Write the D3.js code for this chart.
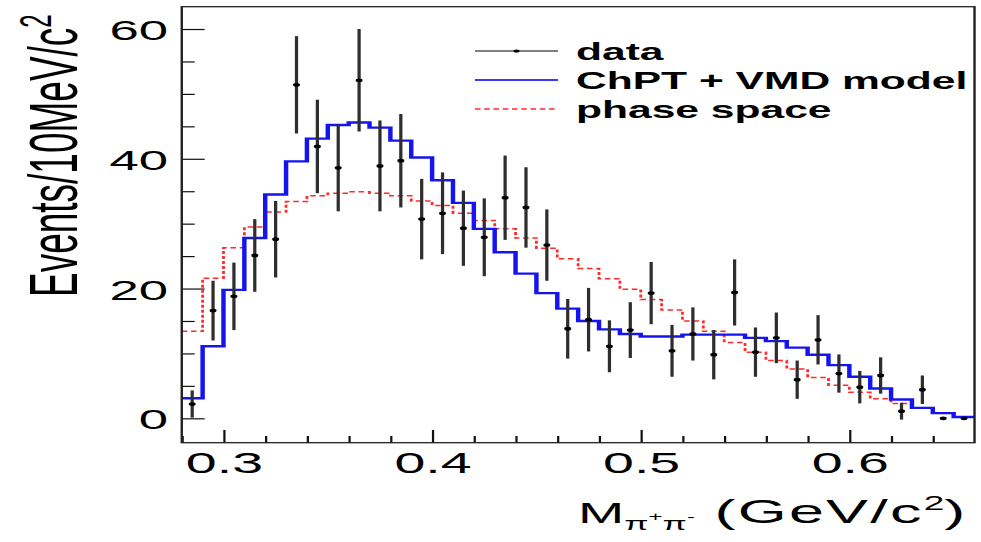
<!DOCTYPE html>
<html>
<head>
<meta charset="utf-8">
<script src="https://cdn.jsdelivr.net/npm/d3@7"></script>
<style>
  html, body { margin: 0; padding: 0; background: #ffffff; }
  svg { display: block; }
  text { font-family: "Liberation Sans", Arial, Helvetica, sans-serif; fill: #000; }
</style>
</head>
<body>
<svg id="chart"></svg>
<script>
// Dipion invariant mass spectrum: data with errors, ChPT+VMD model and phase space
// Histogram bins: 10 MeV wide, lower edges (GeV/c^2)
const binLow = [0.28, 0.29, 0.30, 0.31, 0.32, 0.33, 0.34, 0.35, 0.36, 0.37,
                0.38, 0.39, 0.40, 0.41, 0.42, 0.43, 0.44, 0.45, 0.46, 0.47,
                0.48, 0.49, 0.50, 0.51, 0.52, 0.53, 0.54, 0.55, 0.56, 0.57,
                0.58, 0.59, 0.60, 0.61, 0.62, 0.63, 0.64, 0.65];
const binHigh = 0.66;

// Measured events per bin (at bin centres) and their errors
const dataMass = [0.285, 0.295, 0.305, 0.315, 0.325, 0.335, 0.345, 0.355, 0.365, 0.375,
                  0.385, 0.395, 0.405, 0.415, 0.425, 0.435, 0.445, 0.455, 0.465, 0.475,
                  0.485, 0.495, 0.505, 0.515, 0.525, 0.535, 0.545, 0.555, 0.565, 0.575,
                  0.585, 0.595, 0.605, 0.615, 0.625, 0.635, 0.645, 0.655];
const dataEvents = [2.2, 16.6, 18.8, 25.1, 27.6, 51.4, 41.9, 38.6, 52.1, 38.9,
                    39.7, 30.7, 31.6, 29.3, 27.9, 34.0, 32.5, 26.7, 13.8, 15.2,
                    11.1, 13.6, 19.3, 10.4, 13.0, 9.8, 19.4, 10.2, 12.4, 5.95,
                    12.1, 6.9, 4.8, 6.6, 1.1, 4.4, 0.0, 0.0];
const dataErr = [2.1, 4.6, 5.2, 5.6, 5.9, 7.5, 7.2, 6.7, 7.9, 7.0,
                 7.2, 6.2, 6.3, 5.8, 6.0, 6.5, 6.2, 5.5, 4.6, 4.9,
                 4.0, 4.3, 4.8, 4.0, 4.1, 3.8, 5.1, 3.8, 3.9, 2.95,
                 3.8, 2.95, 2.5, 2.8, 1.3, 2.2, 0.0, 0.0];

// ChPT + VMD model prediction per bin
const modelEvents = [3.1, 11.1, 19.8, 27.8, 34.5, 39.6, 43.1, 45.2, 45.6, 44.8,
                     42.8, 40.2, 36.7, 33.2, 29.2, 25.6, 22.3, 19.3, 16.9, 15.0,
                     13.7, 13.0, 12.6, 12.6, 12.9, 12.9, 12.9, 12.4, 11.9, 10.9,
                     9.8, 8.2, 6.4, 4.6, 2.9, 1.6, 0.8, 0.2];

// Phase space prediction per bin
const phaseEvents = [13.4, 21.6, 26.3, 29.5, 31.8, 33.4, 34.3, 34.7, 34.9, 34.7,
                     34.3, 33.5, 32.8, 31.6, 30.5, 29.2, 27.8, 26.2, 24.6, 23.1,
                     21.5, 19.9, 18.3, 16.7, 15.0, 13.4, 11.7, 10.2, 8.9, 7.6,
                     6.3, 5.1, 4.0, 3.0, 2.3, 1.6, 0.8, 0.2];

// Axis ticks
const xMajorTicks = [0.3, 0.4, 0.5, 0.6];
const xTickLabels = ["0.3", "0.4", "0.5", "0.6"];
const xMinorTicks = [0.28, 0.32, 0.34, 0.36, 0.38, 0.42, 0.44, 0.46, 0.48,
                     0.52, 0.54, 0.56, 0.58, 0.62, 0.64];
const yMajorTicks = [0, 20, 40, 60];
const yTickLabels = ["0", "20", "40", "60"];
const yMinorTicks = [5, 10, 15, 25, 30, 35, 45, 50, 55];

const legendLabels = ["data", "ChPT + VMD model", "phase space"];

// The drawing is laid out on a narrow canvas and stretched horizontally to the page
const outerW = 981, outerH = 542;
const W = 530, H = 542;

const svg = d3.select("#chart")
  .attr("width", outerW)
  .attr("height", outerH)
  .attr("viewBox", `0 0 ${W} ${H}`)
  .attr("preserveAspectRatio", "none");

const frame = { left: 98.2, right: 526.5, top: 6.7, bottom: 442.7 };

const x = d3.scaleLinear().domain([0.28, binHigh]).range([frame.left, frame.right]);
const y = d3.scaleLinear().domain([-3.76, 63.44]).range([frame.bottom, frame.top]);

// ---- axes (ticks drawn inside the frame) ----
const xAxisMajor = d3.axisBottom(x)
  .tickValues(xMajorTicks)
  .tickFormat((d, i) => xTickLabels[i])
  .tickSize(-12.7)
  .tickPadding(9);
const xAxisMinor = d3.axisBottom(x)
  .tickValues(xMinorTicks)
  .tickFormat("")
  .tickSize(-6.7);

const yAxisMajor = d3.axisLeft(y)
  .tickValues(yMajorTicks)
  .tickFormat((d, i) => yTickLabels[i])
  .tickSize(-12.4)
  .tickPadding(7.4);
const yAxisMinor = d3.axisLeft(y)
  .tickValues(yMinorTicks)
  .tickFormat("")
  .tickSize(-7);

function styleAxis(g, fontSize) {
  g.select(".domain").remove();
  g.selectAll(".tick line").attr("stroke", "#111").attr("stroke-width", 1.2);
  g.selectAll(".tick text")
    .attr("font-size", fontSize)
    .attr("font-family", "Liberation Sans, Arial, sans-serif")
    .attr("fill", "#000");
}

svg.append("g").attr("transform", `translate(0,${frame.bottom})`).call(xAxisMinor).call(g => styleAxis(g, 30));
svg.append("g").attr("transform", `translate(0,${frame.bottom})`).call(xAxisMajor).call(g => styleAxis(g, 30));
svg.append("g").attr("transform", `translate(${frame.left},0)`).call(yAxisMinor).call(g => styleAxis(g, 28.5));
svg.append("g").attr("transform", `translate(${frame.left},0)`).call(yAxisMajor).call(g => {
  styleAxis(g, 28.5);
  g.selectAll(".tick text").attr("dy", "0.37em");
});

// ---- histograms ----
const stepLine = d3.line()
  .x(d => x(d[0]))
  .y(d => y(d[1]))
  .curve(d3.curveStepAfter);

function histPoints(vals) {
  const pts = binLow.map((e, i) => [e, vals[i]]);
  pts.push([binHigh, vals[vals.length - 1]]);
  return pts;
}

svg.append("path")
  .datum(histPoints(phaseEvents))
  .attr("d", stepLine)
  .attr("fill", "none")
  .attr("stroke", "#ff2b2b")
  .attr("stroke-width", 1.5)
  .attr("stroke-dasharray", "3,2");

svg.append("path")
  .datum(histPoints(modelEvents))
  .attr("d", stepLine)
  .attr("fill", "none")
  .attr("stroke", "#1414f0")
  .attr("stroke-width", 2.4);

// ---- data points with error bars ----
const pts = dataMass.map((m, i) => ({ m, v: dataEvents[i], e: dataErr[i] }));

svg.append("g").selectAll("line")
  .data(pts.filter(d => d.e > 0))
  .join("line")
  .attr("x1", d => x(d.m))
  .attr("x2", d => x(d.m))
  .attr("y1", d => y(d.v - d.e))
  .attr("y2", d => y(d.v + d.e))
  .attr("stroke", "#2e2e2e")
  .attr("stroke-width", 1.75);

svg.append("g").selectAll("circle")
  .data(pts)
  .join("circle")
  .attr("cx", d => x(d.m))
  .attr("cy", d => y(d.v))
  .attr("r", 1.9)
  .attr("fill", "#000");

// ---- frame ----
svg.append("rect")
  .attr("x", frame.left)
  .attr("y", frame.top)
  .attr("width", frame.right - frame.left)
  .attr("height", frame.bottom - frame.top)
  .attr("fill", "none")
  .attr("stroke", "#222")
  .attr("stroke-width", 1.3);

// ---- legend ----
const legend = svg.append("g");
const legX0 = 256.6, legX1 = 301.5, legTextX = 311.2;
const legY = [51, 80, 109];

legend.append("line")
  .attr("x1", legX0).attr("x2", legX1).attr("y1", legY[0]).attr("y2", legY[0])
  .attr("stroke", "#000").attr("stroke-width", 1.2);
legend.append("circle")
  .attr("cx", (legX0 + legX1) / 2).attr("cy", legY[0]).attr("r", 1.6).attr("fill", "#000");
legend.append("line")
  .attr("x1", legX0).attr("x2", legX1).attr("y1", legY[1]).attr("y2", legY[1])
  .attr("stroke", "#3a3aff").attr("stroke-width", 2);
legend.append("line")
  .attr("x1", legX0).attr("x2", legX1).attr("y1", legY[2]).attr("y2", legY[2])
  .attr("stroke", "#ff2b2b").attr("stroke-width", 1.4).attr("stroke-dasharray", "3,2");

legend.selectAll("text")
  .data(legendLabels)
  .join("text")
  .attr("x", legTextX)
  .attr("y", (d, i) => legY[i] + 9)
  .attr("font-size", 23)
  .attr("font-weight", "bold")
  .text(d => d);

// ---- axis titles ----
const yTitle = svg.append("text")
  .attr("transform", "translate(41.6,297) rotate(-90)")
  .attr("font-size", 37)
  .attr("text-anchor", "start");
yTitle.append("tspan").text("Events/10MeV/c");
yTitle.append("tspan").attr("font-size", 24).attr("dy", -14).text("2");

const xTitle = svg.append("text")
  .attr("x", 312.3)
  .attr("y", 523)
  .attr("font-size", 30);
xTitle.append("tspan").text("M");
xTitle.append("tspan").attr("font-size", 19).attr("dy", 7).text("π");
xTitle.append("tspan").attr("font-size", 13).attr("dy", -9).text("+");
xTitle.append("tspan").attr("font-size", 19).attr("dy", 9).text("π");
xTitle.append("tspan").attr("font-size", 13).attr("dy", -9).text("-");
xTitle.append("tspan").attr("font-size", 34).attr("dy", 2).attr("letter-spacing", 1.2).text(" (GeV/c");
xTitle.append("tspan").attr("font-size", 20).attr("dy", -13).text("2");
xTitle.append("tspan").attr("font-size", 34).attr("dy", 13).text(")");
</script>
</body>
</html>
